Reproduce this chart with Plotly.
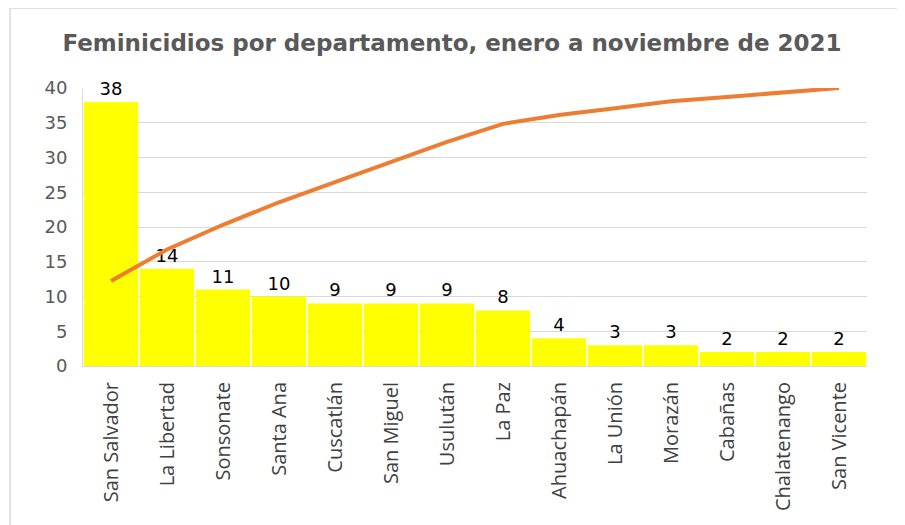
import plotly.graph_objects as go

departamentos = ["San Salvador", "La Libertad", "Sonsonate", "Santa Ana", "Cuscatlán",
                 "San Miguel", "Usulután", "La Paz", "Ahuachapán", "La Unión",
                 "Morazán", "Cabañas", "Chalatenango", "San Vicente"]
feminicidios = [38, 14, 11, 10, 9, 9, 9, 8, 4, 3, 3, 2, 2, 2]
acumulado_pct = [30.6, 41.9, 50.8, 58.9, 66.1, 73.4, 80.6, 87.1, 90.3, 92.7, 95.2, 96.8, 98.4, 100.0]
y_ticks = [0, 5, 10, 15, 20, 25, 30, 35, 40]

# page body has an 8px margin, so the figure is drawn offset by (8, 8)
OFF = 8
W, H = 905 - OFF, 525 - OFF
ml, mr, mt, mb = 83 - OFF, 38, 88 - OFF, 159
pw = W - ml - mr
ph = H - mt - mb

fig = go.Figure()
fig.add_trace(go.Bar(
    x=departamentos, y=feminicidios,
    marker=dict(color="#FFFF00", line=dict(width=0)),
    text=[str(v) for v in feminicidios], textposition="outside",
    textfont=dict(family="DejaVu Sans", size=18, color="#000000"),
    cliponaxis=False, showlegend=False,
))
fig.add_trace(go.Scatter(
    x=departamentos, y=acumulado_pct, yaxis="y2", mode="lines",
    line=dict(color="#ED7D31", width=4), showlegend=False,
))

def px_x(p):
    return (p - OFF - ml) / pw

def px_y(p):
    return (H - mb - (p - OFF)) / ph

fig.update_layout(
    width=W, height=H,
    margin=dict(l=ml, r=mr, t=mt, b=mb, autoexpand=False),
    paper_bgcolor="white", plot_bgcolor="white",
    bargap=0.03,
    title=dict(text="<b>Feminicidios por departamento, enero a noviembre de 2021</b>",
               x=(452 - OFF) / W, xanchor="center", y=1 - (43 - OFF) / H, yanchor="middle",
               font=dict(family="DejaVu Sans", size=23, color="#595959")),
    xaxis=dict(tickangle=-90, tickfont=dict(family="Open Sans", size=20, color="#404040"),
               showline=True, linecolor="#D9D9D9", linewidth=1,
               ticks="outside", ticklen=7, tickcolor="rgba(0,0,0,0)",
               showgrid=False),
    yaxis=dict(range=[0, 40], tickvals=y_ticks, showgrid=True, gridcolor="#D9D9D9",
               gridwidth=1, showline=True, linecolor="#D9D9D9", zeroline=False,
               tickfont=dict(family="DejaVu Sans", size=18, color="#595959"),
               ticks="outside", ticklen=11, tickcolor="rgba(0,0,0,0)"),
    yaxis2=dict(range=[0, 100], overlaying="y", side="right", visible=False),
    shapes=[dict(type="rect", xref="paper", yref="paper",
                 x0=px_x(10), x1=px_x(899), y0=px_y(540), y1=px_y(8),
                 line=dict(color="#D9D9D9", width=1.5), fillcolor="rgba(0,0,0,0)", layer="below")],
)

fig.write_html("out.html")
